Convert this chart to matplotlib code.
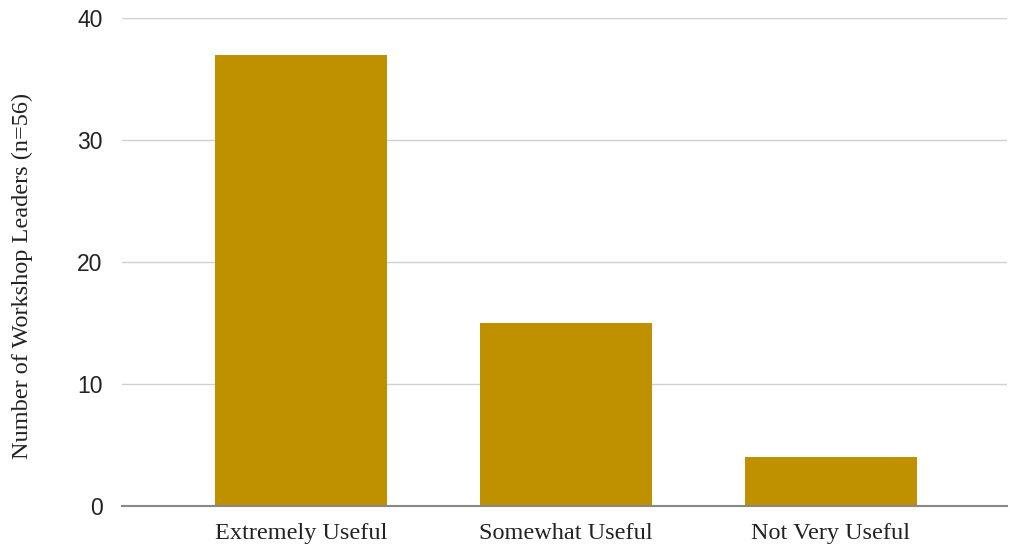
import matplotlib
matplotlib.use('Agg')
import matplotlib.pyplot as plt

categories = ['Extremely Useful', 'Somewhat Useful', 'Not Very Useful']
counts = [37, 15, 4]
y_ticks = [0, 10, 20, 30, 40]

fig = plt.figure(figsize=(10.14, 5.48), dpi=100)
ax = fig.add_axes([0.1203, 0.0766, 0.8727, 0.8906])

x = list(range(len(categories)))
ax.bar(x, counts, width=0.65, color='#BF9000', zorder=3)

ax.set_xlim(-0.675, 2.665)
ax.set_ylim(0, 40)
ax.set_yticks(y_ticks)
ax.set_xticks(x)
ax.set_xticklabels(categories, fontfamily='Liberation Serif', fontsize=17.5, color='#222222')
for lbl in ax.get_yticklabels():
    lbl.set_fontfamily('Liberation Sans')
    lbl.set_fontsize(16.5)
    lbl.set_color('#222222')

ax.grid(axis='y', color='#d0d0d0', linewidth=1, zorder=0)
for s in ['top', 'right', 'left']:
    ax.spines[s].set_visible(False)
ax.spines['bottom'].set_color('#888888')
ax.spines['bottom'].set_linewidth(1.5)
ax.spines['bottom'].set_zorder(4)
ax.tick_params(axis='both', length=0)
ax.tick_params(axis='y', pad=14)
ax.tick_params(axis='x', pad=12)

ax.set_ylabel('Number of Workshop Leaders (n=56)', fontfamily='Liberation Serif',
              fontsize=17.5, color='#222222')
ax.yaxis.set_label_coords(-0.1, 0.471)

fig.savefig('out.png', dpi=100)
